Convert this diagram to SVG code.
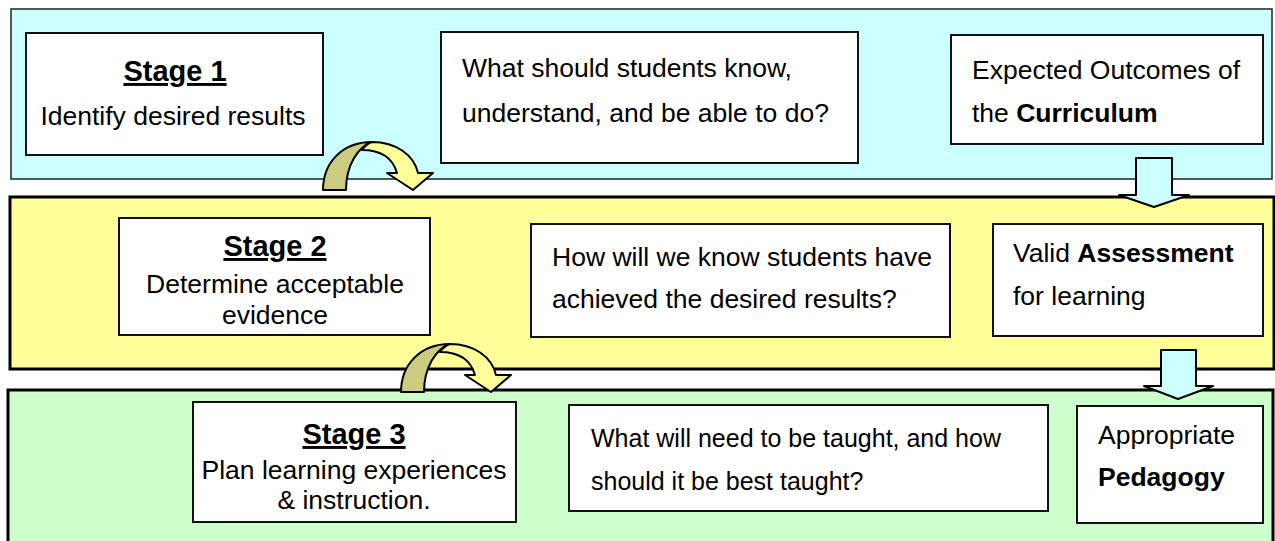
<svg xmlns="http://www.w3.org/2000/svg" width="1275" height="541" viewBox="0 0 1275 541">
<style>
.t{font-family:"Liberation Sans",Arial,sans-serif;font-size:26.5px;fill:#000}
.s{font-size:25px}
.b{font-weight:bold}
.h{font-family:"Liberation Sans",Arial,sans-serif;font-size:29px;font-weight:bold;text-decoration:underline;fill:#000}
.box{fill:#fff;stroke:#111;stroke-width:2}
.arr{stroke:#000;stroke-width:2;stroke-linejoin:round}
</style>
<defs>
<g id="curved">
<path class="arr" fill="#CCCC80" d="M323,190 C323,163 342,142 372,142 C358,147 346,165 346,190 Z"/>
<path class="arr" fill="#FFFF99" d="M372,142 C396,142 414,155 418,173 L433,173 L413,190 L387,173 L397,173 C393,159 382,150 362,150 C365,146 368,143 372,142 Z"/>
</g>
</defs>
<g id="bands">
<rect x="11" y="9" width="1261" height="170" fill="#CCFFFF" stroke="#222" stroke-width="1.5"/>
<rect x="10" y="197" width="1264" height="172" fill="#FFFF99" stroke="#000" stroke-width="3"/>
<rect x="8" y="390" width="1265" height="160" fill="#CCFFCC" stroke="#000" stroke-width="3"/>
</g>
<g id="stage1">
<rect class="box" x="26" y="33" width="297" height="122"/>
<text class="h" x="175" y="81" text-anchor="middle">Stage 1</text>
<text class="t" x="173" y="125" text-anchor="middle">Identify desired results</text>
</g>
<g id="q1">
<rect class="box" x="441" y="32" width="417" height="131"/>
<text class="t" x="462" y="77">What should students know,</text>
<text class="t" x="462" y="122">understand, and be able to do?</text>
</g>
<g id="o1">
<rect class="box" x="951" y="35" width="312" height="109"/>
<text class="t" x="972" y="79">Expected Outcomes of</text>
<text class="t" x="972" y="122">the <tspan class="b">Curriculum</tspan></text>
</g>
<g id="stage2">
<rect class="box" x="119" y="218" width="311" height="117"/>
<text class="h" x="275" y="256" text-anchor="middle">Stage 2</text>
<text class="t" x="275" y="293" text-anchor="middle">Determine acceptable</text>
<text class="t" x="275" y="324" text-anchor="middle">evidence</text>
</g>
<g id="q2">
<rect class="box" x="531" y="224" width="419" height="113"/>
<text class="t" x="552" y="266">How will we know students have</text>
<text class="t" x="552" y="308">achieved the desired results?</text>
</g>
<g id="o2">
<rect class="box" x="993" y="224" width="270" height="112"/>
<text class="t" x="1013" y="262">Valid <tspan class="b">Assessment</tspan></text>
<text class="t" x="1013" y="305">for learning</text>
</g>
<g id="stage3">
<rect class="box" x="193" y="402" width="323" height="120"/>
<text class="h" x="354" y="444" text-anchor="middle">Stage 3</text>
<text class="t" x="354" y="479" text-anchor="middle">Plan learning experiences</text>
<text class="t" x="354" y="509" text-anchor="middle">&amp; instruction.</text>
</g>
<g id="q3">
<rect class="box" x="569" y="405" width="479" height="106"/>
<text class="t s" x="591" y="447">What will need to be taught, and how</text>
<text class="t s" x="591" y="490">should it be best taught?</text>
</g>
<g id="o3">
<rect class="box" x="1077" y="406" width="186" height="117"/>
<text class="t" x="1098" y="444">Appropriate</text>
<text class="t b" x="1098" y="486">Pedagogy</text>
</g>
<g id="connectors">
<use href="#curved"/>
<use href="#curved" transform="translate(78,202)"/>
<path class="arr" fill="#CCFFFF" d="M1136,158 L1172,158 L1172,195 L1189,195 L1154,207 L1119,195 L1136,195 Z"/>
<path class="arr" fill="#CCFFFF" d="M1161,350 L1196,350 L1196,386 L1213,386 L1178,399 L1144,386 L1161,386 Z"/>
</g>
</svg>
